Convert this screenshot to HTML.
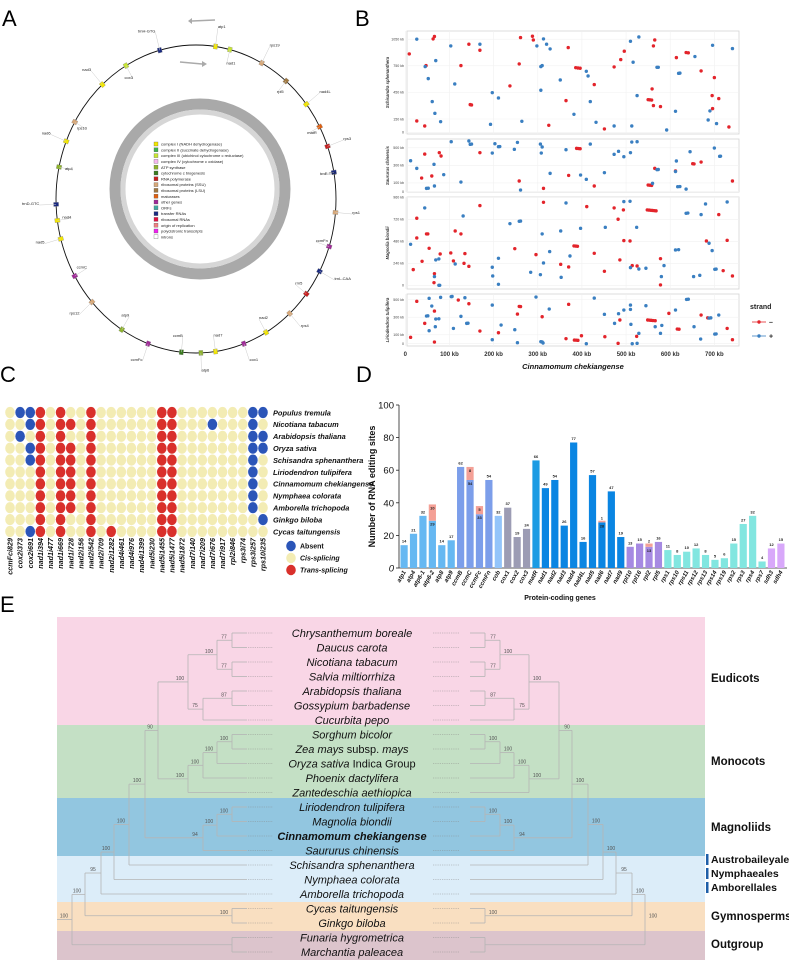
<!DOCTYPE html>
<html><head><meta charset="utf-8">
<style>
html,body{margin:0;padding:0;background:#fff;}
svg{display:block;font-family:"Liberation Sans",sans-serif;}
</style></head>
<body>
<svg id="fig" width="789" height="961" viewBox="0 0 789 961" xmlns="http://www.w3.org/2000/svg">
<text x="2" y="26" font-size="22">A</text>
<text x="355" y="26" font-size="22">B</text>
<text x="0" y="382" font-size="22">C</text>
<text x="356" y="382" font-size="22">D</text>
<text x="0" y="612" font-size="22">E</text>
<g id="pa"></g>
<g id="pb"></g>
<g id="pc"></g>
<g id="pd"></g>
<g id="pe"></g>
</svg>
<script>
const NS="http://www.w3.org/2000/svg";
function mk(parent,tag,attrs,text){const e=document.createElementNS(NS,tag);for(const k in attrs)e.setAttribute(k,attrs[k]);if(text!==undefined)e.textContent=text;parent.appendChild(e);return e;}

/* ---------------- Panel A ---------------- */
const legendLabels=["complex I (NADH dehydrogenase)","complex II (succinate dehydrogenase)","complex III (ubichinol cytochrome c reductase)","complex IV (cytochrome c oxidase)","ATP synthase","cytochrome c biogenesis","RNA polymerase","ribosomal proteins (SSU)","ribosomal proteins (LSU)","maturases","other genes","ORFs","transfer RNAs","ribosomal RNAs","origin of replication","polycistronic transcripts","introns"];
const legendColors=["#f2e600","#3cb44b","#c8e632","#f7b6f0","#8db32a","#3a7a1f","#c81e1e","#d8a878","#a07840","#e06010","#a02898","#40a8a0","#1a2a80","#e01040","#f08080","#f020f0","#fff"];
const geneAngles=[8,14,28,40,52,62,70,80,95,108,118,128,138,150,160,172,178,186,200,212,228,240,255,262,268,282,292,300,318,330,345];
const geneColors=["#f2e600","#c8e632","#d8a878","#a07840","#f2e600","#e06010","#c81e1e","#1a2a80","#d8a878","#a02898","#1a2a80","#c81e1e","#d8a878","#f2e600","#a02898","#f2e600","#8db32a","#3a7a1f","#a02898","#8db32a","#d8a878","#a02898","#f2e600","#f2e600","#1a2a80","#8db32a","#f2e600","#d8a878","#f2e600","#c8e632","#1a2a80"];
const geneNames=["atp1","nad1","rps19","rpl5","nad4L","matR","rps3","trnE-TTC","rps1","ccmFn","trnL-CAA","rrn5","rps4","nad2","cox1","nad7","atp6","ccmB","ccmFc","atp9","rps12","ccmC","nad5","nad4","trnD-GTC","atp4","nad6","rps10","nad3","cox3","trnH-GTG"];
(function(){
  const g=document.getElementById('pa');
  const cx=196,cy=199,rx=140,ry=154;
  const c=mk(g,'ellipse',{cx:cx,cy:cy,rx:rx,ry:ry,fill:'none',stroke:'#111','stroke-width':0.9});
  
  
  const r1=mk(g,'circle',{cx:200,cy:189,r:85,fill:'none',stroke:'#a9a9a9','stroke-width':11});
  
  
  mk(g,'circle',{cx:200,cy:189,r:77,fill:'none',stroke:'#d6d6d6','stroke-width':5});
  geneAngles.forEach((a,i)=>{
    const t=(a-90)*Math.PI/180;
    const x=cx+rx*Math.cos(t),y=cy+ry*Math.sin(t);
    const m=mk(g,'rect',{x:x-2,y:y-2.5,width:4,height:5,fill:geneColors[i],stroke:'#888','stroke-width':0.3,transform:`rotate(${a},${x},${y})`});
    
    
    const out=(i%2===0)?1.12:0.9;
    const lx=cx+rx*out*Math.cos(t),ly=cy+ry*out*Math.sin(t);
    mk(g,'line',{x1:x,y1:y,x2:lx,y2:ly,stroke:'#ccc','stroke-width':0.5});
    const tx=mk(g,'text',{x:lx,y:ly,'font-size':4,'text-anchor':(Math.cos(t)>0?'start':'end'),fill:'#222'},geneNames[i]);
    
    
  });
  mk(g,'path',{d:'M215 20 L192 21',stroke:'#aaa','stroke-width':1.5,fill:'none'});
  mk(g,'path',{d:'M192 18 L188 21 L192 24 Z',fill:'#aaa'});
  mk(g,'path',{d:'M180 62 L202 64',stroke:'#aaa','stroke-width':1.5,fill:'none'});
  mk(g,'path',{d:'M202 61 L207 64 L202 67 Z',fill:'#aaa'});
  legendLabels.forEach((l,i)=>{
    const y=142+i*5.8;
    const r=mk(g,'rect',{x:154,y:y,width:4,height:4,fill:legendColors[i],stroke:'#555','stroke-width':0.3});
    
    
    const t=mk(g,'text',{x:161,y:y+3.6,'font-size':4,fill:'#222'},l);
    
    
  });
})();

/* ---------------- Panel B ---------------- */
const bXTicks=[0,100,200,300,400,500,600,700];
const bXTickLabels=["0","100 kb","200 kb","300 kb","400 kb","500 kb","600 kb","700 kb"];
const bPanelNames=["Schisandra sphenanthera","Saururus chinensis","Magnolia biondii","Liriodendron tulipifera"];
const b1Ticks=[0,150,450,750,1050];
const b2Ticks=[0,100,300,500];
const b3Ticks=[0,240,480,720,960];
const b4Ticks=[0,100,300,500];
const b1Red=[[9,884],[66,1080],[63,1053],[47,752],[26,128],[44,71],[144,993],[169,925],[126,752],[147,312],[150,308],[237,523],[258,771],[261,1068],[288,1083],[290,1041],[325,79],[369,955],[364,357],[386,729],[391,725],[396,722],[428,538],[451,38],[473,737],[488,820],[496,914],[562,974],[565,1041],[559,489],[550,368],[554,366],[558,364],[562,301],[578,290],[614,842],[636,899],[641,896],[670,692],[700,617],[695,414],[710,380],[696,267],[733,60]];
const b1Blue=[[26,1050],[45,741],[69,808],[52,605],[112,545],[61,346],[67,214],[80,120],[103,974],[169,993],[197,447],[211,387],[193,90],[264,124],[313,1053],[298,974],[320,993],[328,940],[307,741],[310,752],[307,474],[351,590],[410,688],[414,635],[419,346],[382,203],[432,113],[473,71],[510,1026],[529,1075],[516,790],[513,71],[570,733],[573,733],[525,414],[592,26],[612,237],[656,854],[619,665],[622,667],[696,981],[741,944],[690,241],[686,139],[705,98]];
const b2Red=[[37,156],[44,429],[60,179],[77,445],[81,407],[169,445],[258,122],[313,38],[370,186],[388,494],[392,492],[396,490],[428,65],[550,76],[554,74],[558,72],[565,266],[612,236],[651,319],[654,317],[670,338],[741,122]];
const b2Blue=[[12,353],[26,266],[48,38],[52,40],[65,312],[66,65],[87,194],[104,570],[126,110],[144,578],[147,540],[150,543],[197,441],[203,547],[211,513],[214,515],[247,483],[254,562],[261,19],[306,543],[308,441],[310,510],[328,209],[364,479],[397,190],[410,141],[419,543],[451,217],[473,426],[483,460],[495,399],[510,445],[513,566],[525,570],[560,95],[570,251],[573,253],[614,350],[612,230],[617,57],[622,59],[636,30],[645,456],[700,498],[712,403],[714,405]];
const b3Red=[[18,171],[26,732],[26,517],[48,561],[51,561],[54,404],[38,262],[79,342],[66,127],[65,29],[103,353],[109,266],[113,593],[126,561],[135,346],[133,240],[144,207],[169,870],[248,400],[296,335],[313,906],[352,229],[370,200],[382,430],[386,428],[390,426],[411,859],[428,349],[451,153],[473,845],[482,721],[494,823],[486,277],[495,488],[509,484],[514,215],[525,211],[548,823],[552,821],[556,819],[560,817],[564,815],[568,813],[578,291],[578,4],[682,484],[710,772],[720,160],[729,491],[741,102]];
const b3Blue=[[12,448],[44,845],[69,277],[76,288],[66,95],[76,0],[78,0],[113,233],[131,757],[197,197],[198,102],[211,295],[211,11],[237,673],[258,699],[261,701],[306,116],[310,561],[313,244],[327,368],[284,142],[352,593],[353,87],[373,320],[364,899],[397,622],[453,633],[495,914],[509,917],[510,193],[529,178],[524,633],[545,186],[580,95],[586,215],[612,386],[619,389],[636,786],[640,789],[653,95],[688,459],[695,379],[667,109],[670,772],[680,888],[701,175],[704,177],[729,910]];
const b4Red=[[12,72],[26,479],[44,230],[66,369],[66,19],[120,494],[144,452],[169,143],[211,124],[254,335],[258,422],[261,420],[310,305],[364,57],[370,445],[383,41],[387,40],[391,38],[399,90],[452,79],[482,4],[486,268],[524,83],[549,268],[553,266],[557,264],[561,262],[566,260],[597,343],[616,166],[620,164],[670,324],[685,292],[729,173],[741,45]];
const b4Blue=[[48,313],[51,315],[54,147],[54,513],[60,426],[69,279],[76,282],[68,192],[80,524],[104,532],[106,534],[109,173],[126,309],[135,520],[139,230],[142,232],[197,437],[197,45],[217,211],[248,158],[254,11],[296,528],[307,23],[310,20],[312,8],[326,392],[410,0],[428,516],[451,332],[474,230],[483,339],[495,381],[510,388],[510,437],[511,219],[514,0],[525,4],[529,117],[545,430],[566,192],[578,117],[581,207],[612,381],[637,501],[641,503],[654,192],[669,53],[688,290],[692,292],[710,324],[701,109],[704,111]];
(function(){
  const g=document.getElementById('pb');
  const X=kb=>405.3+kb*0.4415;
  const panels=[
    {top:31,bot:134,y0:132.3,k:0.0887,ticks:b1Ticks,red:b1Red,blue:b1Blue},
    {top:139,bot:192,y0:191.7,k:0.0877,ticks:b2Ticks,red:b2Red,blue:b2Blue},
    {top:197,bot:289,y0:285.3,k:0.0916,ticks:b3Ticks,red:b3Red,blue:b3Blue},
    {top:294,bot:346,y0:343.7,k:0.0884,ticks:b4Ticks,red:b4Red,blue:b4Blue}];
  panels.forEach((p,pi)=>{
    const Y=v=>p.y0-v*p.k;
    const fr=mk(g,'rect',{x:407,y:p.top,width:332,height:p.bot-p.top,fill:'#fff',stroke:'#d4d4d4','stroke-width':0.8});
    
    
    bXTicks.forEach(t=>mk(g,'line',{x1:X(t),x2:X(t),y1:p.top,y2:p.bot,stroke:'#f1f1f1','stroke-width':0.6}));
    p.ticks.forEach(t=>{
      mk(g,'line',{x1:407,x2:739,y1:Y(t),y2:Y(t),stroke:'#f1f1f1','stroke-width':0.6});
      const tl=mk(g,'text',{x:404,y:Y(t)+1.3,'font-size':3.6,'text-anchor':'end',fill:'#444'},t===0?'0':t+' kb');
      
      
    });
    const yt=mk(g,'text',{x:0,y:0,'font-size':4.2,'font-style':'italic','font-weight':'bold',fill:'#333','text-anchor':'middle',transform:`translate(389,${(p.top+p.bot)/2}) rotate(-90)`},bPanelNames[pi]);
    
    
    p.red.forEach(d=>{const c=mk(g,'circle',{cx:X(d[0]),cy:Y(d[1]),r:1.7,fill:'#e3242b'});
      
      });
    p.blue.forEach(d=>{const c=mk(g,'circle',{cx:X(d[0]),cy:Y(d[1]),r:1.7,fill:'#3a7fc1'});
      
      });
  });
  bXTicks.forEach((t,i)=>{
    const l=mk(g,'text',{x:X(t),y:356,'font-size':6,'font-weight':'bold','text-anchor':'middle',fill:'#333'},bXTickLabels[i]);
    
    
  });
  const xt=mk(g,'text',{x:573,y:369,'font-size':7.5,'font-weight':'bold','font-style':'italic','text-anchor':'middle',fill:'#111'},'Cinnamomum chekiangense');
  
  
  const st=mk(g,'text',{x:750,y:309,'font-size':7,'font-weight':'bold',fill:'#222'},'strand');
  
  
  [['#e3242b','–',322],['#3a7fc1','+',336]].forEach(e=>{
    mk(g,'line',{x1:752,x2:766,y1:e[2],y2:e[2],stroke:e[0],'stroke-width':0.8});
    const c=mk(g,'circle',{cx:759,cy:e[2],r:1.7,fill:e[0]});
    
    
    mk(g,'text',{x:769,y:e[2]+2.5,'font-size':7,'font-weight':'bold',fill:'#222'},e[1]);
  });
})();

/* ---------------- Panel C ---------------- */
const cIntrons=["ccmFci829","cox2i373","cox2i691","nad1i394","nad1i477","nad1i669","nad1i728","nad2i156","nad2i542","nad2i709","nad2i1282","nad4i461","nad4i976","nad4i1399","nad5i230","nad5i1455","nad5i1477","nad5i1872","nad7i140","nad7i209","nad7i676","nad7i917","rpl2i846","rps3i74","rps3i257","rps10i235"];
const cSpecies=["Populus tremula","Nicotiana tabacum","Arabidopsis thaliana","Oryza sativa","Schisandra sphenanthera","Liriodendron tulipifera","Cinnamomum chekiangense","Nymphaea colorata","Amborella trichopoda","Ginkgo biloba","Cycas taitungensis"];
// 0 = cis, 1 = trans, 2 = absent
const cMatrix=[
"02210100100000011000000022",
"00210110100000011000200020",
"02010100100000011000000022",
"00210110100000011000000022",
"00210110100000011000000020",
"00010110100000011000000020",
"00010110100000011000000020",
"00010110100000011000000020",
"00010110100000011000000020",
"00010100100000011000000002",
"00210100101000011000000000"];
(function(){
  const g=document.getElementById('pc');
  const cols=['#f3ecb4','#d9302b','#2b55b8'];
  const x0=10,dx=10.12,y0=412.5,dy=11.9;
  cMatrix.forEach((row,ri)=>{
    for(let ci=0;ci<row.length;ci++){
      const v=+row[ci];
      const e=mk(g,'ellipse',{cx:x0+ci*dx,cy:y0+ri*dy,rx:4.8,ry:5.6,fill:cols[v]});
      
      
    }
    const t=mk(g,'text',{x:273,y:y0+ri*dy+2.8,'font-size':7.4,'font-weight':'bold','font-style':'italic',fill:'#111'},cSpecies[ri]);
    
    
  });
  cIntrons.forEach((n,i)=>{
    const t=mk(g,'text',{x:0,y:0,'font-size':7.2,'font-weight':'bold','font-style':'italic',fill:'#111','text-anchor':'end',transform:`translate(${x0+i*dx+2.6},538) rotate(-90)`},n);
    
    
  });
  [['Absent',2,546],['Cis-splicing',0,558],['Trans-splicing',1,570]].forEach(l=>{
    const e=mk(g,'ellipse',{cx:291,cy:l[2],rx:4.8,ry:5.2,fill:cols[l[1]]});
    
    
    mk(g,'text',{x:300,y:l[2]+2.6,'font-size':7,'font-weight':'bold','font-style':l[1]===2?'normal':'italic',fill:'#111'},l[0]);
  });
})();

/* ---------------- Panel D ---------------- */
const dGenes=["atp1","atp4","atp6-1","atp6-2","atp8","atp9","ccmB","ccmC","ccmFc","ccmFn","cob","cox1","cox2","cox3","matR","nad1","nad2","nad3","nad4","nad4L","nad5","nad6","nad7","nad9","rpl10","rpl16","rpl2","rpl5","rps1","rps10","rps11","rps12","rps13","rps14","rps19","rps2","rps3","rps4","rps7","sdh3","sdh4"];
const dCommon=[14,21,32,29,14,17,62,54,33,54,32,37,19,24,66,49,54,26,77,16,57,28,47,19,13,15,13,16,11,8,10,12,8,5,6,15,27,32,4,12,15];
const dSpecific=[0,0,0,10,0,0,0,8,5,0,0,0,0,0,0,0,0,0,0,0,0,1,0,0,0,0,2,0,0,0,0,0,0,0,0,0,0,0,0,0,0];
const dYTicks=[0,20,40,60,80,100];
(function(){
  const g=document.getElementById('pd');
  const Y=v=>568-v*1.63;
  const X=i=>400.5+i*9.42;
  const bw=7.2;
  const fam=n=>{
    if(n.startsWith('atp'))return '#66b8f2';
    if(n.startsWith('ccm'))return '#7c9eea';
    if(n==='cob')return '#93c4fa';
    if(n.startsWith('cox'))return '#9c9cb4';
    if(n==='matR')return '#1b9be3';
    if(n.startsWith('nad'))return '#0a85e2';
    if(n.startsWith('rpl'))return '#a68ae2';
    if(n.startsWith('rps'))return '#82e6e0';
    return '#d8a8fa';
  };
  mk(g,'line',{x1:399,x2:399,y1:Y(100),y2:Y(0),stroke:'#222','stroke-width':0.8});
  mk(g,'line',{x1:399,x2:787,y1:Y(0),y2:Y(0),stroke:'#222','stroke-width':0.8});
  dYTicks.forEach(t=>{
    mk(g,'line',{x1:396,x2:399,y1:Y(t),y2:Y(t),stroke:'#222','stroke-width':0.8});
    const l=mk(g,'text',{x:394,y:Y(t)+3.5,'font-size':9.5,'text-anchor':'end','font-style':t===0?'italic':'normal',fill:'#111'},t);
    
    
  });
  const yt=mk(g,'text',{x:0,y:0,'font-size':9,'font-weight':'bold','text-anchor':'middle',fill:'#111',transform:`translate(375,${Y(50)}) rotate(-90)`},'Number of RNA editing sites');
  
  
  dGenes.forEach((n,i)=>{
    const c=dCommon[i],s=dSpecific[i];
    const b=mk(g,'rect',{x:X(i),y:Y(c),width:bw,height:Y(0)-Y(c),fill:fam(n)});
    
    
    if(s>0){
      const r=mk(g,'rect',{x:X(i),y:Y(c+s),width:bw,height:Y(c)-Y(c+s),fill:'#f4a096'});
      
      
      mk(g,'text',{x:X(i)+bw/2,y:Y(c+s)+(s>2?5:-1),'font-size':4,'font-weight':'bold','text-anchor':'middle',fill:'#222'},s);
      mk(g,'text',{x:X(i)+bw/2,y:Y(c)+5,'font-size':4,'font-weight':'bold','text-anchor':'middle',fill:'#222'},c);
    } else {
      const v=mk(g,'text',{x:X(i)+bw/2,y:Y(c)-2.5,'font-size':4,'font-weight':'bold','text-anchor':'middle',fill:'#222'},c);
      
      
    }
    const l=mk(g,'text',{x:0,y:0,'font-size':6,'font-weight':'bold','font-style':'italic','text-anchor':'end',fill:'#111',transform:`translate(${X(i)+bw/2+2},${Y(0)+4}) rotate(-60)`},n);
    
    
  });
  const xt=mk(g,'text',{x:560,y:600,'font-size':7,'font-weight':'bold','text-anchor':'middle',fill:'#111'},'Protein-coding genes');
  
  
})();

/* ---------------- Panel E ---------------- */
const eTaxa=["Chrysanthemum boreale","Daucus carota","Nicotiana tabacum","Salvia miltiorrhiza","Arabidopsis thaliana","Gossypium barbadense","Cucurbita pepo","Sorghum bicolor","Zea mays subsp. mays","Oryza sativa Indica Group","Phoenix dactylifera","Zantedeschia aethiopica","Liriodendron tulipifera","Magnolia biondii","Cinnamomum chekiangense","Saururus chinensis","Schisandra sphenanthera","Nymphaea colorata","Amborella trichopoda","Cycas taitungensis","Ginkgo biloba","Funaria hygrometrica","Marchantia paleacea"];
const eGroups=["Eudicots","Monocots","Magnoliids","Austrobaileyales","Nymphaeales","Amborellales","Gymnosperms","Outgroup"];
(function(){
  const g=document.getElementById('pe');
  const T=i=>633+i*14.5;
  const bands=[[617,725,'#f9d6e6'],[725,798,'#c4e0c5'],[798,856,'#92c6e0'],[856,902,'#dcedf9'],[902,931,'#f9dfc1'],[931,960,'#dcc4cc']];
  bands.forEach(b=>{const r=mk(g,'rect',{x:57,y:b[0],width:648,height:b[1]-b[0],fill:b[2]});
    
    });
  const tree=[72,'100',[
    [85,'100',[
      [101,'95',[
        [114,'100',[
          [129,'100',[
            [145,'100',[
              [158,'90',[
                [188,'100',[
                  [217,'100',[[232,'77',[0,1]],[232,'77',[2,3]]]],
                  [203,'75',[[232,'87',[4,5]],6]]]],
                [188,'100',[[203,'100',[[217,'100',[[232,'100',[7,8]],9]],10]],11]]]],
              [203,'94',[[217,'100',[[232,'100',[12,13]],14]],15]]]],
            16]],
          17]],
        18]],
      [232,'100',[19,20]]]],
    [232,'',[21,22]]]];
  const tipX=247;
  function draw(node,mirror){
    const fx=x=>mirror?717-x:x;
    if(typeof node==='number'){return T(node);}
    const [x,sup,kids]=node;
    const ys=kids.map(k=>{
      const y=draw(k,mirror);
      const kx=(typeof k==='number')?tipX:k[0];
      mk(g,'line',{x1:fx(x),x2:fx(kx),y1:y,y2:y,stroke:'#b5b5b5','stroke-width':0.8});
      return y;});
    const y1=Math.min(...ys),y2=Math.max(...ys);
    mk(g,'line',{x1:fx(x),x2:fx(x),y1:y1,y2:y2,stroke:'#b5b5b5','stroke-width':0.8});
    if(sup){const s=mk(g,'text',{x:mirror?fx(x)+8:fx(x)-8,y:(y1+y2)/2-2,'font-size':5,'text-anchor':'middle',fill:'#555'},sup);
      
      }
    return (y1+y2)/2;
  }
  const ry=draw(tree,false);
  mk(g,'line',{x1:57,x2:72,y1:ry,y2:ry,stroke:'#b5b5b5','stroke-width':0.8});
  draw(tree,true);
  eTaxa.forEach((n,i)=>{
    mk(g,'line',{x1:248,x2:273,y1:T(i),y2:T(i),stroke:'#888','stroke-width':0.6,'stroke-dasharray':'0.8 1'});
    mk(g,'line',{x1:433,x2:460,y1:T(i),y2:T(i),stroke:'#888','stroke-width':0.6,'stroke-dasharray':'0.8 1'});
    const bold=n==='Cinnamomum chekiangense';
    let t;
    if(n==='Oryza sativa Indica Group'){
      t=mk(g,'text',{x:352,y:T(i)+4,'font-size':11,'text-anchor':'middle',fill:'#111'});
      mk(t,'tspan',{'font-style':'italic'},'Oryza sativa');
      mk(t,'tspan',{},' Indica Group');
    } else if(n==='Zea mays subsp. mays'){
      t=mk(g,'text',{x:352,y:T(i)+4,'font-size':11,'text-anchor':'middle',fill:'#111'});
      mk(t,'tspan',{'font-style':'italic'},'Zea mays');
      mk(t,'tspan',{},' subsp. ');
      mk(t,'tspan',{'font-style':'italic'},'mays');
    } else {
      t=mk(g,'text',{x:352,y:T(i)+4,'font-size':11,'font-style':'italic','font-weight':bold?'bold':'normal','text-anchor':'middle',fill:'#111'},n);
    }
    
    
  });
  const gy=[678,761,827,859,873,887,916,944];
  eGroups.forEach((n,i)=>{
    const t=mk(g,'text',{x:711,y:gy[i]+4,'font-size':i>=3&&i<=5?10.5:11.5,'font-weight':'bold',fill:'#111'},n);
    
    
    if(i>=3&&i<=5){mk(g,'rect',{x:706,y:gy[i]-5,width:2.5,height:11,fill:'#1f5fa8'});}
  });
})();
</script>
</body></html>
